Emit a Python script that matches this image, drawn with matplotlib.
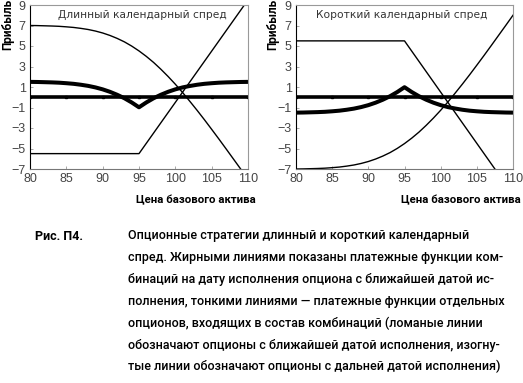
import matplotlib
matplotlib.use("Agg")
import matplotlib.pyplot as plt
import numpy as np

# цена базового актива
S = list(range(80, 111))

# длинный календарный спред: опцион с дальней датой (изогнутая линия)
far_long = [7.00, 6.99, 6.97, 6.95, 6.92, 6.87, 6.81, 6.72, 6.61, 6.46,
            6.27, 6.03, 5.74, 5.40, 4.99, 4.52, 3.99, 3.40, 2.74, 2.03,
            1.27, 0.46, -0.40, -1.28, -2.19, -3.13, -4.08, -5.05, -6.03, -7.01,
            -8.00]
# комбинация (жирная линия)
combo_long = [1.50, 1.49, 1.47, 1.45, 1.42, 1.37, 1.31, 1.22, 1.11, 0.96,
              0.77, 0.53, 0.24, -0.10, -0.51, -0.98, -0.51, -0.10, 0.24, 0.53,
              0.77, 0.96, 1.10, 1.22, 1.31, 1.37, 1.42, 1.45, 1.47, 1.49,
              1.50]
# опцион с ближайшей датой (ломаная)
near_S = [80, 95, 110]
near_long = [-5.5, -5.5, 9.5]

# короткий спред - зеркально
far_short = [-v for v in far_long]
combo_short = [-v for v in combo_long]
near_short = [-v for v in near_long]

zero_S = [80, 85, 90, 95, 100, 105, 110]
zero_v = [0, 0, 0, 0, 0, 0, 0]

xticks = [80, 85, 90, 95, 100, 105, 110]
yticks = [9, 7, 5, 3, 1, -1, -3, -5, -7]

titles = ["Длинный календарный спред", "Короткий календарный спред"]
ylab = "Прибыль"
xlab = "Цена базового актива"

caption_head = "Рис. П4."
caption = [
    "Опционные стратегии длинный и короткий календарный",
    "спред. Жирными линиями показаны платежные функции ком-",
    "бинаций на дату исполнения опциона с ближайшей датой ис-",
    "полнения, тонкими линиями — платежные функции отдельных",
    "опционов, входящих в состав комбинаций (ломаные линии",
    "обозначают опционы с ближайшей датой исполнения, изогну-",
    "тые линии обозначают опционы с дальней датой исполнения)",
]

fig = plt.figure(figsize=(5.23, 3.83), dpi=100)

boxes = [[30/523, 1-169/383, 218/523, 164/383],
         [296/523, 1-169/383, 217/523, 164/383]]
series = [(far_long, combo_long, near_long), (far_short, combo_short, near_short)]
title_x = [0.516, 0.487]

for i in range(2):
    ax = fig.add_axes(boxes[i])
    far, combo, near = series[i]
    ax.plot(S, far, color="black", lw=1.0)
    ax.plot(near_S, near, color="black", lw=1.0)
    ax.plot(zero_S, zero_v, color="black", lw=2.6, marker="s", ms=2)
    ax.plot(S, combo, color="black", lw=2.9, solid_joinstyle="round",
            solid_capstyle="butt")
    ax.set_xlim(80, 110)
    ax.set_ylim(-7, 9)
    ax.set_xticks(xticks)
    ax.set_yticks(yticks)
    ax.set_yticklabels([str(t).replace("-", "\u2212") for t in yticks])
    ax.tick_params(direction="in", length=2, width=0.6, colors="#999999",
                   labelcolor="#444444", labelsize=9, pad=3)
    for lab in ax.get_xticklabels() + ax.get_yticklabels():
        lab.set_fontfamily(["Liberation Sans Narrow", "Liberation Sans"])
    ax.spines["left"].set_color("black")
    ax.spines["bottom"].set_color("#777777")
    ax.spines["top"].set_color("#999999")
    ax.spines["right"].set_color("#999999")
    for sp in ax.spines.values():
        sp.set_linewidth(0.8)
    ax.text(title_x[i], 0.94, titles[i], transform=ax.transAxes, ha="center",
            va="center", fontsize=7.7, color="#333333", family="DejaVu Sans")
    ax.text(-0.10 if i == 0 else -0.107, 1.035, ylab, transform=ax.transAxes,
            rotation=90, ha="center", va="top", fontsize=8.5, fontweight="bold",
            family="Roboto")
    ax.text(1.035, -0.19, xlab, transform=ax.transAxes, ha="right", va="center",
            fontsize=8.2, fontweight="bold", family="Roboto")

fig.text(35/523, 1-236/383, caption_head, ha="left", va="center",
         fontsize=9, fontweight="bold", family="Roboto")
for k, line in enumerate(caption):
    fig.text(128/523, 1-(236+21.8*k)/383, line, ha="left", va="center",
             fontsize=9.0, fontweight=500, family="Roboto")

fig.savefig("out.png", dpi=100)
